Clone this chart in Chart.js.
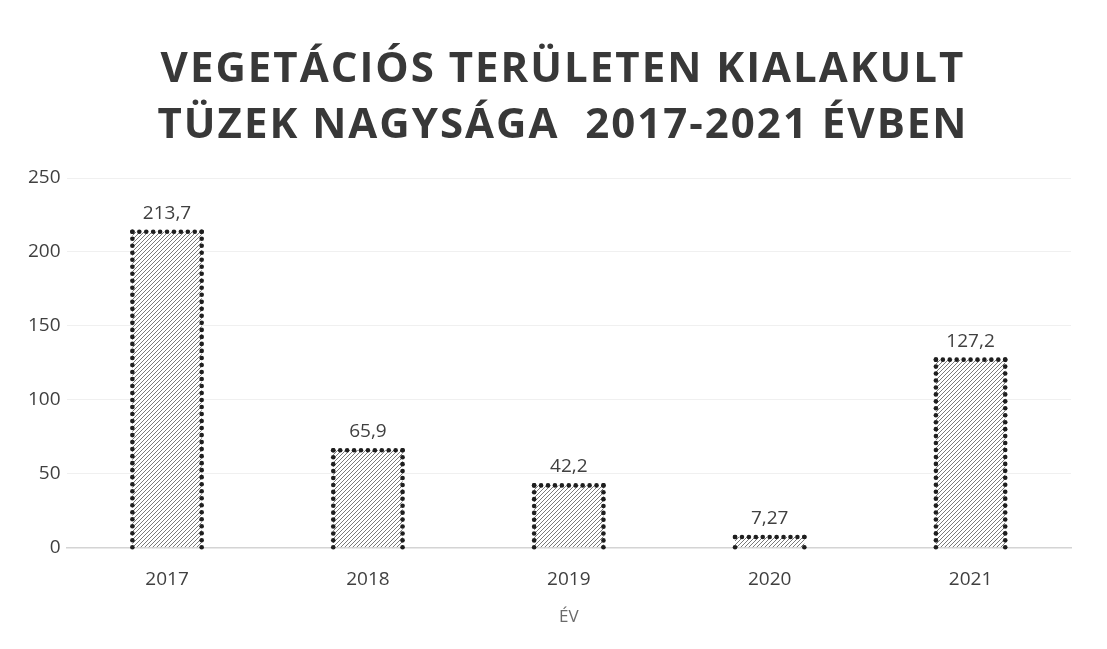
<!DOCTYPE html>
<html>
<head>
<meta charset="utf-8">
<script src="https://cdn.jsdelivr.net/npm/chart.js@4/dist/chart.umd.min.js"></script>
<style>
html,body{margin:0;padding:0;background:#fff;}
#wrap{width:1107px;height:649px;position:relative;}
</style>
</head>
<body>
<div id="wrap"><canvas id="c" width="1107" height="649"></canvas></div>
<script>
const categories = ['2017', '2018', '2019', '2020', '2021'];
const values = [213.7, 65.9, 42.2, 7.27, 127.2];
const yTicks = [0, 50, 100, 150, 200, 250];
const titleLines = ['VEGETÁCIÓS TERÜLETEN KIALAKULT', 'TÜZEK NAGYSÁGA  2017-2021 ÉVBEN'];
const xAxisTitle = 'ÉV';
const FONT = '"Open Sans", "Noto Sans", sans-serif';

function makeHatch() {
  const s = 4;
  const p = document.createElement('canvas');
  p.width = s; p.height = s;
  const g = p.getContext('2d');
  g.fillStyle = '#ffffff';
  g.fillRect(0, 0, s, s);
  g.strokeStyle = '#7a7a7a';
  g.lineWidth = 1;
  g.beginPath();
  g.moveTo(0, s); g.lineTo(s, 0);
  g.moveTo(-1, 1); g.lineTo(1, -1);
  g.moveTo(s - 1, s + 1); g.lineTo(s + 1, s - 1);
  g.stroke();
  return g.createPattern(p, 'repeat');
}
const hatch = makeHatch();

const titlePlugin = {
  id: 'spacedTitle',
  beforeDraw(chart) {
    const ctx = chart.ctx;
    ctx.save();
    ctx.font = 'bold 42px ' + FONT;
    ctx.fillStyle = '#383838';
    ctx.textAlign = 'center';
    ctx.textBaseline = 'alphabetic';
    if ('letterSpacing' in ctx) ctx.letterSpacing = '2px';
    ctx.fillText(titleLines[0], 563, 82);
    ctx.fillText(titleLines[1], 563, 138);
    ctx.restore();
  }
};

const dottedBorder = {
  id: 'dottedBorder',
  afterDatasetsDraw(chart) {
    const ctx = chart.ctx;
    const meta = chart.getDatasetMeta(0);
    ctx.save();
    ctx.fillStyle = '#1e1e1e';
    meta.data.forEach(bar => {
      const p = bar.getProps(['x', 'y', 'base', 'width'], true);
      const l = p.x - p.width / 2, r = p.x + p.width / 2, t = p.y, b = p.base;
      const step = 7;
      const dot = (x, y) => { ctx.beginPath(); ctx.arc(x, y, 2.3, 0, Math.PI * 2); ctx.fill(); };
      const nx = Math.max(1, Math.round((r - l) / step));
      for (let i = 0; i <= nx; i++) dot(l + (r - l) * i / nx, t);
      const ny = Math.max(1, Math.round((b - t) / step));
      for (let i = 0; i <= ny; i++) { dot(l, t + (b - t) * i / ny); dot(r, t + (b - t) * i / ny); }
    });
    ctx.restore();
  }
};

const dataLabels = {
  id: 'dataLabels',
  afterDatasetsDraw(chart) {
    const ctx = chart.ctx;
    const meta = chart.getDatasetMeta(0);
    ctx.save();
    ctx.font = '19px ' + FONT;
    ctx.fillStyle = '#404040';
    ctx.textAlign = 'center';
    ctx.textBaseline = 'bottom';
    meta.data.forEach((bar, i) => {
      const txt = String(values[i]).replace('.', ',');
      ctx.fillText(txt, bar.x, bar.y - 9);
    });
    ctx.restore();
  }
};

new Chart(document.getElementById('c'), {
  type: 'bar',
  data: {
    labels: categories,
    datasets: [{
      data: values,
      backgroundColor: hatch,
      borderWidth: 0,
      categoryPercentage: 1,
      barPercentage: 0.345
    }]
  },
  options: {
    responsive: false,
    animation: false,
    layout: { padding: { left: 22, right: 36, top: 178, bottom: 22 } },
    plugins: {
      legend: { display: false },
      tooltip: { enabled: false },
      title: { display: false }
    },
    scales: {
      x: {
        grid: { display: false, drawTicks: false },
        border: { display: true, color: '#d4d4d4', width: 1.5 },
        ticks: { color: '#404040', font: { family: FONT, size: 19 }, padding: 20 },
        title: { display: true, text: xAxisTitle, color: '#6a6a6a', font: { family: FONT, size: 17 }, padding: { top: -4, bottom: 0 } }
      },
      y: {
        min: 0, max: 250,
        afterBuildTicks(axis) { axis.ticks = yTicks.map(v => ({ value: v })); },
        grid: { color: '#f0f0f0', drawTicks: false },
        border: { display: false },
        ticks: { color: '#404040', font: { family: FONT, size: 19 }, padding: 6 }
      }
    }
  },
  plugins: [titlePlugin, dottedBorder, dataLabels]
});
</script>
</body>
</html>
